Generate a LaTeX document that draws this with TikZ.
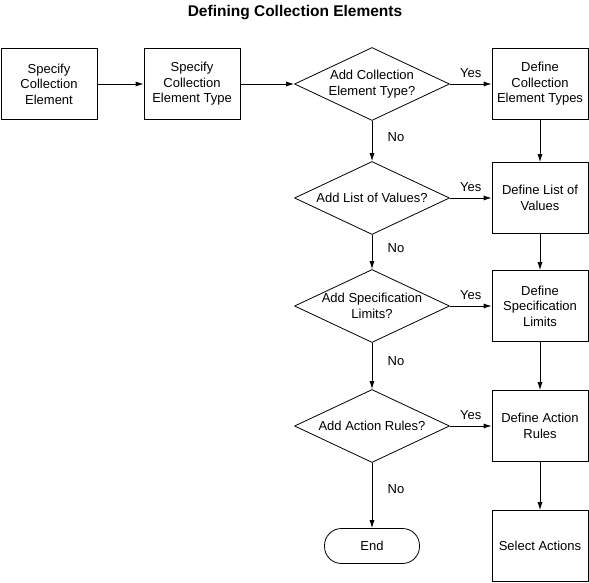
\documentclass[tikz,border=0pt]{standalone}
\usepackage{fontspec}
\setmainfont{Liberation Sans}
\usetikzlibrary{arrows.meta,positioning,shapes.geometric}

\begin{document}
\begin{tikzpicture}[node distance=120pt, on grid, line width=0.8pt,
    font=\fontsize{13}{15.5}\selectfont,
    box/.style={draw, rectangle, minimum width=96pt, minimum height=71pt, align=center, inner sep=1pt},
    ask/.style={draw, diamond, aspect=2.1, minimum width=155pt, minimum height=73pt, align=center, inner sep=0pt},
    stopbox/.style={draw, rectangle, rounded corners=17pt, minimum width=95pt, minimum height=35pt},
    flow/.style={-{Latex[length=8pt,width=5pt]}}]
   \useasboundingbox (0,0) rectangle (589pt,-583pt);
   \node[font=\fontsize{15.5}{18}\selectfont\bfseries] (title) at (295pt,-13pt) {Defining Collection Elements};
   \node[box] (spec) at (49pt,-84pt) {Specify\\Collection\\Element};
   \node[box, right=143pt of spec] (spectype) {Specify\\Collection\\Element Type};
   \node[ask, right=180pt of spectype] (asktype) {Add Collection\\Element Type?};
   \node[box, right=168pt of asktype] (deftype) {Define\\Collection\\Element Types};
   \node[ask, below=114pt of asktype] (asklist) {Add List of Values?};
   \node[box, below=114pt of deftype] (deflist) {Define List of\\Values};
   \node[ask, below=108pt of asklist] (askspec) {Add Specification\\Limits?};
   \node[box, below=108pt of deflist] (defspec) {Define\\Specification\\Limits};
   \node[ask, below=120pt of askspec] (askrules) {Add Action Rules?};
   \node[box, below=120pt of defspec] (defrules) {Define Action\\Rules};
   \node[stopbox, below=120pt of askrules] (stop) {End};
   \node[box, below=120pt of defrules] (selact) {Select Actions};

   % main line
   \draw[flow] (spec) edge (spectype)
     (spectype) edge (asktype);
   % yes branches
   \draw[flow] (asktype) edge node[above=3pt] {Yes} (deftype)
     (asklist) edge node[above=3pt] {Yes} (deflist)
     (askspec) edge node[above=3pt] {Yes} (defspec)
     (askrules) edge node[above=3pt] {Yes} (defrules);
   % no branches
   \draw[flow] (asktype) edge node[pos=0.4, right=12pt] {No} (asklist)
     (asklist) edge node[pos=0.4, right=12pt] {No} (askspec)
     (askspec) edge node[pos=0.4, right=12pt] {No} (askrules)
     (askrules) edge node[pos=0.4, right=12pt] {No} (stop);
   % right column
   \draw[flow] (deftype) edge (deflist)
     (deflist) edge (defspec)
     (defspec) edge (defrules)
     (defrules) edge (selact);
\end{tikzpicture}
\end{document}
